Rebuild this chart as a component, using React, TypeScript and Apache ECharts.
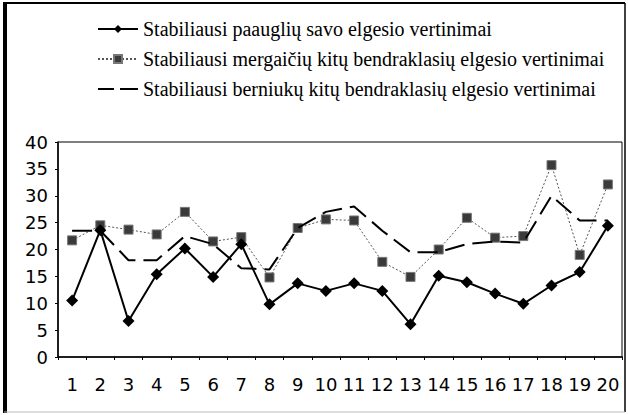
import React, { useEffect, useRef } from "react";
import * as echarts from "echarts";

const categories = ["1","2","3","4","5","6","7","8","9","10","11","12","13","14","15","16","17","18","19","20"];
const seriesNames = [
  "Stabiliausi paauglių savo elgesio vertinimai",
  "Stabiliausi mergaičių kitų bendraklasių elgesio vertinimai",
  "Stabiliausi berniukų kitų bendraklasių elgesio vertinimai",
];
const paaugliu = [10.5, 23.6, 6.7, 15.4, 20.2, 14.9, 21, 9.8, 13.7, 12.3, 13.7, 12.3, 6.1, 15.1, 13.9, 11.8, 9.9, 13.3, 15.8, 24.4];
const mergaiciu = [21.7, 24.5, 23.7, 22.8, 27, 21.5, 22.3, 14.8, 24, 25.6, 25.4, 17.7, 14.9, 20, 25.9, 22.2, 22.5, 35.7, 19, 32.1];
const berniuku = [23.5, 23.5, 18, 18, 22.5, 21, 16.5, 16.3, 24, 27, 28, 23.5, 19.5, 19.5, 21, 21.5, 21.3, 30, 25.4, 25.4];
const yTicks = { min: 0, max: 40, interval: 5 };

const dashIcon =
  "path://M0,0L0.01,0L0,0.01Z M0,10L0.01,10L0,9.99Z M40,0L39.99,0L40,0.01Z M40,10L39.99,10L40,9.99Z M0,4H16V6H0Z M22,4H40V6H22Z";

export default function App() {
  const ref = useRef<HTMLDivElement>(null);
  useEffect(() => {
    if (!ref.current) return;
    const chart = echarts.init(ref.current, null, { renderer: "svg" });
    const axisFont = { fontFamily: "DejaVu Sans", fontSize: 18, color: "#000" };
    chart.setOption({
      animation: false,
      backgroundColor: "#fff",
      graphic: [
        { type: "line", shape: { x1: 5, y1: 2, x2: 5, y2: 413 }, style: { stroke: "#000", lineWidth: 4 } },
        { type: "line", shape: { x1: 4, y1: 3, x2: 625, y2: 3 }, style: { stroke: "#000", lineWidth: 2 } },
        { type: "line", shape: { x1: 625, y1: 3, x2: 625, y2: 412 }, style: { stroke: "#000", lineWidth: 1.5 } },
        { type: "line", shape: { x1: 4, y1: 412, x2: 625, y2: 412 }, style: { stroke: "#bbb", lineWidth: 1 } },
      ],
      legend: {
        orient: "vertical",
        left: 97,
        top: 19,
        padding: 0,
        itemWidth: 40,
        itemHeight: 10,
        itemGap: 10,
        textStyle: { fontFamily: "Liberation Serif", fontSize: 20, lineHeight: 20, color: "#000" },
        data: [
          { name: seriesNames[0] },
          { name: seriesNames[1] },
          { name: seriesNames[2], icon: dashIcon, itemStyle: { color: "#000" } },
        ],
      },
      grid: {
        left: 58,
        right: 6,
        top: 142,
        bottom: 58,
        show: true,
        borderColor: "#000",
        borderWidth: 1,
      },
      xAxis: {
        type: "category",
        data: categories,
        boundaryGap: true,
        axisLine: { lineStyle: { color: "#000", width: 1.5 } },
        axisTick: { show: true, length: 3, lineStyle: { color: "#000" } },
        axisLabel: { ...axisFont, interval: 0, margin: 18 },
        splitLine: { show: false },
      },
      yAxis: {
        type: "value",
        min: yTicks.min,
        max: yTicks.max,
        interval: yTicks.interval,
        axisLine: { show: true, lineStyle: { color: "#000", width: 1.5 } },
        axisTick: { show: true, length: 3, lineStyle: { color: "#000" } },
        axisLabel: { ...axisFont, margin: 10 },
        splitLine: { show: false },
      },
      series: [
        {
          name: seriesNames[0],
          type: "line",
          data: paaugliu,
          symbol: "diamond",
          symbolSize: 12,
          itemStyle: { color: "#000" },
          lineStyle: { color: "#000", width: 2 },
          z: 3,
        },
        {
          name: seriesNames[1],
          type: "line",
          data: mergaiciu,
          symbol: "rect",
          symbolSize: 9,
          itemStyle: { color: "#3a3a3a", borderColor: "#777", borderWidth: 1 },
          lineStyle: { color: "#555", width: 1, type: [2, 2] },
          z: 2,
        },
        {
          name: seriesNames[2],
          type: "line",
          data: berniuku,
          symbol: "none",
          itemStyle: { color: "#000" },
          lineStyle: { color: "#000", width: 2, type: [20, 8] },
          z: 4,
        },
      ],
    });
    return () => chart.dispose();
  }, []);
  return (
    <div
      ref={ref}
      style={{ position: "absolute", left: 0, top: 0, width: 628, height: 415 }}
    />
  );
}
